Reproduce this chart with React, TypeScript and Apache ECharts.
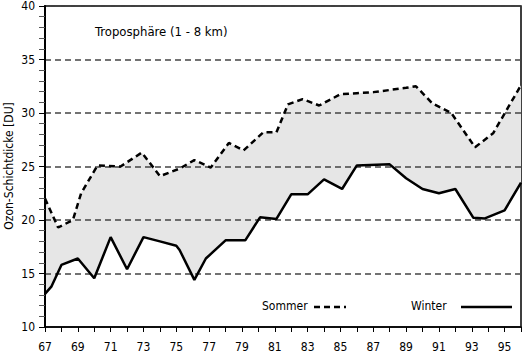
import React, { useEffect, useRef } from "react";
import * as echarts from "echarts";

const title = "Troposphäre (1 - 8 km)";
const yAxisName = "Ozon-Schichtdicke [DU]";
const sommerName = "Sommer";
const winterName = "Winter";

// [year, DU]
const sommer: [number, number][] = [
  [67, 22.0], [67.8, 19.3], [68.7, 20.0], [69.2, 22.5], [70.2, 25.1], [71.6, 25.0],
  [72.9, 26.3], [74.0, 24.1], [75.2, 24.8], [76.1, 25.6], [77.1, 24.9], [78.2, 27.2],
  [79.1, 26.5], [80.3, 28.2], [81.1, 28.2], [81.8, 30.8], [82.7, 31.3], [83.7, 30.7],
  [85.0, 31.75], [86, 31.85], [87, 31.95], [88, 32.15], [89, 32.35], [89.6, 32.5],
  [90.6, 30.9], [91.75, 30.0], [93.2, 26.8], [94.3, 28.1], [96, 32.6],
];

const winter: [number, number][] = [
  [67, 13.1], [67.4, 13.8], [68, 15.8], [69, 16.4], [70, 14.55], [71, 18.4],
  [72, 15.4], [73, 18.4], [74, 18.0], [75, 17.6], [75.2, 17.2], [76.1, 14.4],
  [76.8, 16.4], [78, 18.1], [79.2, 18.1], [80.1, 20.25], [81.1, 20.1], [82, 22.4],
  [83, 22.4], [84, 23.8], [85.1, 22.9], [86, 25.1], [88, 25.2], [89, 23.9],
  [90, 22.9], [91, 22.5], [92, 22.9], [93.1, 20.2], [93.8, 20.15], [95, 20.9],
  [96, 23.5],
];

const FONT = "'Liberation Sans Narrow', 'DejaVu Sans Condensed', 'Liberation Sans', sans-serif";

export default function App() {
  const ref = useRef<HTMLDivElement>(null);
  useEffect(() => {
    document.body.style.margin = "0";
    const chart = echarts.init(ref.current!, null, { renderer: "svg" });
    chart.setOption({
      animation: false,
      grid: {
        left: 45, right: 3, top: 6, bottom: 28, containLabel: false, outerBoundsMode: "none",
        show: true, borderColor: "#000", borderWidth: 1.5, backgroundColor: "transparent",
      },
      xAxis: {
        type: "value", min: 67, max: 96, interval: 1, z: 3,
        axisLine: { lineStyle: { color: "#000", width: 1.5 } },
        axisTick: { show: true, length: 5, lineStyle: { color: "#000", width: 1 } },
        axisLabel: {
          color: "#000", fontSize: 12, fontFamily: FONT, margin: 14,
          formatter: (v: number) => (Math.round(v) % 2 === 1 ? String(v) : ""),
        },
        splitLine: { show: false },
      },
      yAxis: {
        type: "value", min: 10, max: 40, interval: 5, z: 3,
        axisLine: { lineStyle: { color: "#000", width: 2 } },
        axisTick: { show: true, length: 6, lineStyle: { color: "#000", width: 1 } },
        minorTick: { show: true, splitNumber: 5, length: 6, lineStyle: { color: "#555", width: 1 } },
        axisLabel: { color: "#000", fontSize: 12, fontFamily: FONT, margin: 10,
          formatter: (v: number) => String(v) },
        splitLine: {
          show: true,
          lineStyle: { color: "#444", width: 1.5, type: [6, 4] },
        },
      },
      graphic: [
        {
          type: "text", x: 9, y: 166, rotation: Math.PI / 2,
          style: { text: yAxisName, fontSize: 12, fontFamily: FONT, fill: "#000", align: "center", verticalAlign: "middle" },
        },
        { type: "text", left: 95, top: 25, style: { text: title, fontSize: 13, fontFamily: FONT, fill: "#000" } },
        { type: "text", left: 262, top: 300, style: { text: sommerName, fontSize: 12, fontFamily: FONT, fill: "#000" } },
        { type: "line", shape: { x1: 314, y1: 307, x2: 346, y2: 307 }, style: { stroke: "#000", lineWidth: 2.5, lineDash: [6, 4] } },
        { type: "text", left: 411, top: 300, style: { text: winterName, fontSize: 12, fontFamily: FONT, fill: "#000" } },
        { type: "line", shape: { x1: 461, y1: 307, x2: 512, y2: 307 }, style: { stroke: "#000", lineWidth: 2.5 } },
      ],
      series: [
        {
          type: "custom",
          z: 1,
          data: [[67, 20]],
          renderItem: (params: any, api: any) => {
            const pts: number[][] = [];
            sommer.forEach((p) => pts.push(api.coord(p)));
            for (let i = winter.length - 1; i >= 0; i--) pts.push(api.coord(winter[i]));
            return { type: "polygon", shape: { points: pts }, style: { fill: "#e6e6e6", stroke: "none" } };
          },
          silent: true,
        },
        {
          type: "line", name: sommerName, data: sommer, z: 5, symbol: "none",
          lineStyle: { color: "#000", width: 2.5, type: [6, 4] },
        },
        {
          type: "line", name: winterName, data: winter, z: 5, symbol: "none",
          lineStyle: { color: "#000", width: 2.5 },
        },
      ],
    });
    return () => chart.dispose();
  }, []);
  return <div ref={ref} style={{ width: 524, height: 355 }} />;
}
